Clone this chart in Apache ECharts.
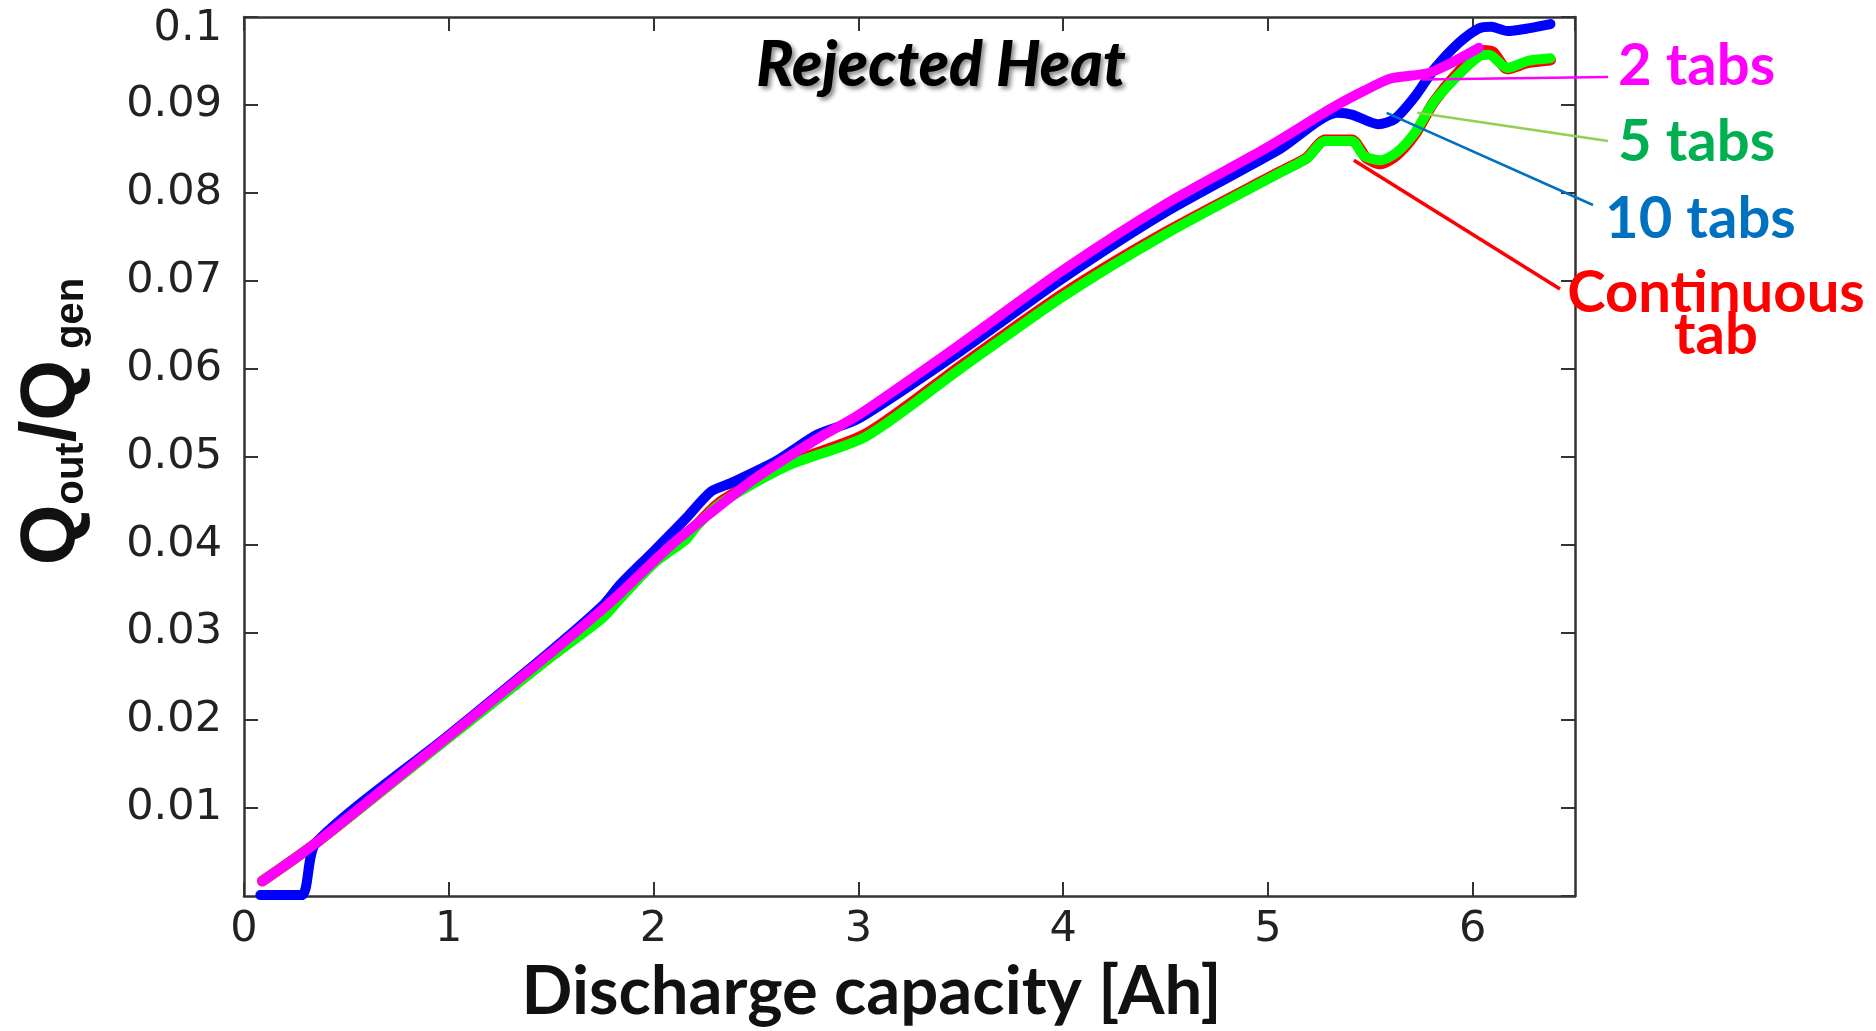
<!DOCTYPE html>
<html>
<head>
<meta charset="utf-8">
<script src="https://cdn.jsdelivr.net/npm/echarts@6/dist/echarts.min.js"></script>
<style>
  html, body { margin: 0; padding: 0; background: #ffffff; }
  #chart { width: 1876px; height: 1031px; }
</style>
</head>
<body>
<div id="chart"></div>
<script>
// Rejected heat ratio Q_out/Q_gen versus discharge capacity for four tab layouts.

// 2 tabs
const tabs2X = [0.09, 0.35, 1.0, 1.5, 1.75, 1.84, 2.08, 2.28, 2.49, 2.82, 3.0, 3.5, 4.0, 4.5, 5.0, 5.31, 5.47, 5.60, 5.78, 5.88, 6.03];
const tabs2Y = [0.0017, 0.0060, 0.0182, 0.0277, 0.0326, 0.0345, 0.0398, 0.0436, 0.0474, 0.0523, 0.0547, 0.0628, 0.0712, 0.0787, 0.0852, 0.0896, 0.0916, 0.0930, 0.0936, 0.0946, 0.0965];

// 5 tabs
const tabs5X = [0.09, 0.35, 1.0, 1.5, 1.75, 1.84, 2.0, 2.16, 2.21, 2.33, 2.65, 3.04, 3.5, 4.0, 4.5, 5.06, 5.19, 5.28, 5.41, 5.47, 5.55, 5.63, 5.72, 5.81, 5.93, 6.03, 6.08, 6.17, 6.27, 6.38];
const tabs5Y = [0.0017, 0.0060, 0.0180, 0.0272, 0.0316, 0.0339, 0.0378, 0.0406, 0.0421, 0.0447, 0.0489, 0.0523, 0.0600, 0.0682, 0.0753, 0.0823, 0.0839, 0.0859, 0.0859, 0.0842, 0.0837, 0.0846, 0.0869, 0.0903, 0.0934, 0.0955, 0.0957, 0.0942, 0.0950, 0.0953];

// 10 tabs
const tabs10X = [0.08, 0.28, 0.35, 1.0, 1.5, 1.75, 1.84, 2.0, 2.16, 2.28, 2.38, 2.6, 2.8, 3.0, 3.5, 4.0, 4.5, 5.06, 5.34, 5.41, 5.54, 5.62, 5.72, 5.81, 5.93, 6.03, 6.09, 6.17, 6.27, 6.38];
const tabs10Y = [0.0001, 0.0001, 0.0060, 0.0183, 0.0279, 0.0330, 0.0355, 0.0392, 0.0430, 0.0460, 0.0470, 0.0495, 0.0525, 0.0543, 0.0620, 0.0703, 0.0778, 0.0850, 0.0891, 0.0889, 0.0878, 0.0884, 0.0910, 0.0940, 0.0970, 0.0987, 0.0989, 0.0984, 0.0987, 0.0992];

// Continuous tab
const contX = [0.09, 0.35, 1.0, 1.5, 1.75, 1.84, 2.0, 2.16, 2.21, 2.33, 2.65, 3.04, 3.5, 4.0, 4.5, 5.06, 5.19, 5.28, 5.41, 5.48, 5.55, 5.63, 5.72, 5.81, 5.93, 6.05, 6.1, 6.17, 6.27, 6.38];
const contY = [0.0017, 0.0060, 0.0181, 0.0273, 0.0318, 0.0341, 0.0380, 0.0408, 0.0422, 0.0449, 0.0491, 0.0526, 0.0603, 0.0685, 0.0755, 0.0824, 0.0840, 0.0860, 0.0860, 0.0840, 0.0833, 0.0843, 0.0867, 0.0903, 0.0937, 0.0962, 0.0960, 0.0941, 0.0948, 0.0951];

// Axis ticks
const xTickLabels = ['0', '1', '2', '3', '4', '5', '6'];
const yTickLabels = ['0.01', '0.02', '0.03', '0.04', '0.05', '0.06', '0.07', '0.08', '0.09', '0.1'];

// Callout labels and the curve points their leader lines start from
const calloutNames = ['2 tabs', '5 tabs', '10 tabs', 'Continuous\ntab'];
const calloutColors = ['#ff00ff', '#00b050', '#0070c0', '#ff0000'];
const leaderColors = ['#ff00ff', '#92d050', '#0070c0', '#ff0000'];
const leaderAnchorX = [5.75, 5.73, 5.58, 5.42];
const leaderAnchorY = [0.0929, 0.0891, 0.0891, 0.0837];

const zip = (xs, ys) => xs.map((x, i) => [x, ys[i]]);

const chart = echarts.init(document.getElementById('chart'), null, { renderer: 'canvas' });

const axisLineStyle = { color: '#333333', width: 2.5 };
const tickStyle = { color: '#333333', width: 2 };
const tickFont = { fontFamily: 'DejaVu Sans', fontSize: 43, color: '#222222' };

function lineSeries(name, data, color, width, z) {
  return {
    name, type: 'line', data, showSymbol: false, smooth: 0.25, z,
    lineStyle: { color, width, cap: 'round', join: 'round' },
    emphasis: { disabled: true }, animation: false
  };
}

const option = {
  animation: false,
  backgroundColor: '#ffffff',
  title: {
    text: 'Rejected Heat',
    left: 936, top: 30, textAlign: 'center',
    textStyle: {
      fontFamily: 'Lato', fontStyle: 'italic', fontWeight: 900, fontSize: 62, color: '#000000',
      textShadowColor: 'rgba(0,0,0,0.45)', textShadowBlur: 4, textShadowOffsetX: 3, textShadowOffsetY: 3
    }
  },
  grid: { left: 244, right: 301, top: 17, bottom: 128, containLabel: false },
  xAxis: [
    {
      type: 'value', min: 0, max: 6.5, interval: 1, position: 'bottom',
      axisLine: { show: true, onZero: false, lineStyle: axisLineStyle },
      axisTick: { show: true, inside: true, length: 14, lineStyle: tickStyle },
      axisLabel: Object.assign({ margin: 12, showMaxLabel: false,
        formatter: v => xTickLabels[Math.round(v)] ?? '' }, tickFont),
      splitLine: { show: false },
      name: 'Discharge capacity [Ah]', nameLocation: 'middle', nameGap: 63,
      nameTextStyle: { fontFamily: 'Lato', fontWeight: 'bold', fontSize: 67, color: '#111111', padding: [0, 76, 0, 0] }
    },
    {
      type: 'value', min: 0, max: 6.5, interval: 1, position: 'top',
      axisLine: { show: true, onZero: false, lineStyle: axisLineStyle },
      axisTick: { show: true, inside: true, length: 14, lineStyle: tickStyle },
      axisLabel: { show: false }, splitLine: { show: false }
    }
  ],
  yAxis: [
    {
      type: 'value', min: 0, max: 0.1, interval: 0.01, position: 'left',
      axisLine: { show: true, onZero: false, lineStyle: axisLineStyle },
      axisTick: { show: true, inside: true, length: 14, lineStyle: tickStyle },
      axisLabel: Object.assign({ margin: 22, showMinLabel: false,
        formatter: v => {
          const t = yTickLabels[Math.round(v * 100) - 1] ?? '';
          return Math.round(v * 100) === 10 ? '{top|' + t + '}' : t;
        },
        rich: { top: { fontFamily: 'DejaVu Sans', fontSize: 43, color: '#222222', padding: [24, 0, 0, 0] } }
      }, tickFont),
      splitLine: { show: false },
      name: '{q|Q}{s|out}{q|/Q}{s| gen}', nameLocation: 'middle', nameGap: 152,
      nameTextStyle: {
        padding: [0, 0, 0, 70],
        rich: {
          q: { fontFamily: 'Liberation Sans', fontWeight: 'bold', fontSize: 78, color: '#111111', verticalAlign: 'bottom' },
          s: { fontFamily: 'Liberation Sans', fontWeight: 'bold', fontSize: 40, color: '#111111', verticalAlign: 'bottom' }
        }
      }
    },
    {
      type: 'value', min: 0, max: 0.1, interval: 0.01, position: 'right',
      axisLine: { show: true, onZero: false, lineStyle: axisLineStyle },
      axisTick: { show: true, inside: true, length: 14, lineStyle: tickStyle },
      axisLabel: { show: false }, splitLine: { show: false }
    }
  ],
  series: [
    lineSeries('Continuous tab', zip(contX, contY), '#ff0000', 11, 2),
    lineSeries('5 tabs', zip(tabs5X, tabs5Y), '#00ff00', 10, 3),
    lineSeries('10 tabs', zip(tabs10X, tabs10Y), '#0000ff', 10, 4),
    lineSeries('2 tabs', zip(tabs2X, tabs2Y), '#ff00ff', 10, 5)
  ]
};

chart.setOption(option);

// Callout text positions (pixels) and the label-side end of each leader line
const calloutPos = [[1618, 66], [1618, 142], [1605, 219], [1716, 314]];
const leaderEnds = [[1608, 77], [1608, 141], [1593, 205], [1560, 289]];

const graphics = [];
calloutNames.forEach((txt, i) => {
  const start = chart.convertToPixel({ gridIndex: 0 }, [leaderAnchorX[i], leaderAnchorY[i]]);
  graphics.push({
    type: 'line', z: 10, silent: true,
    shape: { x1: start[0], y1: start[1], x2: leaderEnds[i][0], y2: leaderEnds[i][1] },
    style: { stroke: leaderColors[i], lineWidth: i === 3 ? 3.5 : 2.5 }
  });
  const multi = txt.indexOf('\n') >= 0;
  graphics.push({
    type: 'text', z: 11, silent: true,
    x: calloutPos[i][0], y: calloutPos[i][1],
    style: {
      text: txt, fill: calloutColors[i],
      font: 'bold 58px Lato',
      lineHeight: 42,
      align: multi ? 'center' : 'left',
      verticalAlign: 'middle'
    }
  });
});
chart.setOption({ graphic: graphics });
</script>
</body>
</html>
